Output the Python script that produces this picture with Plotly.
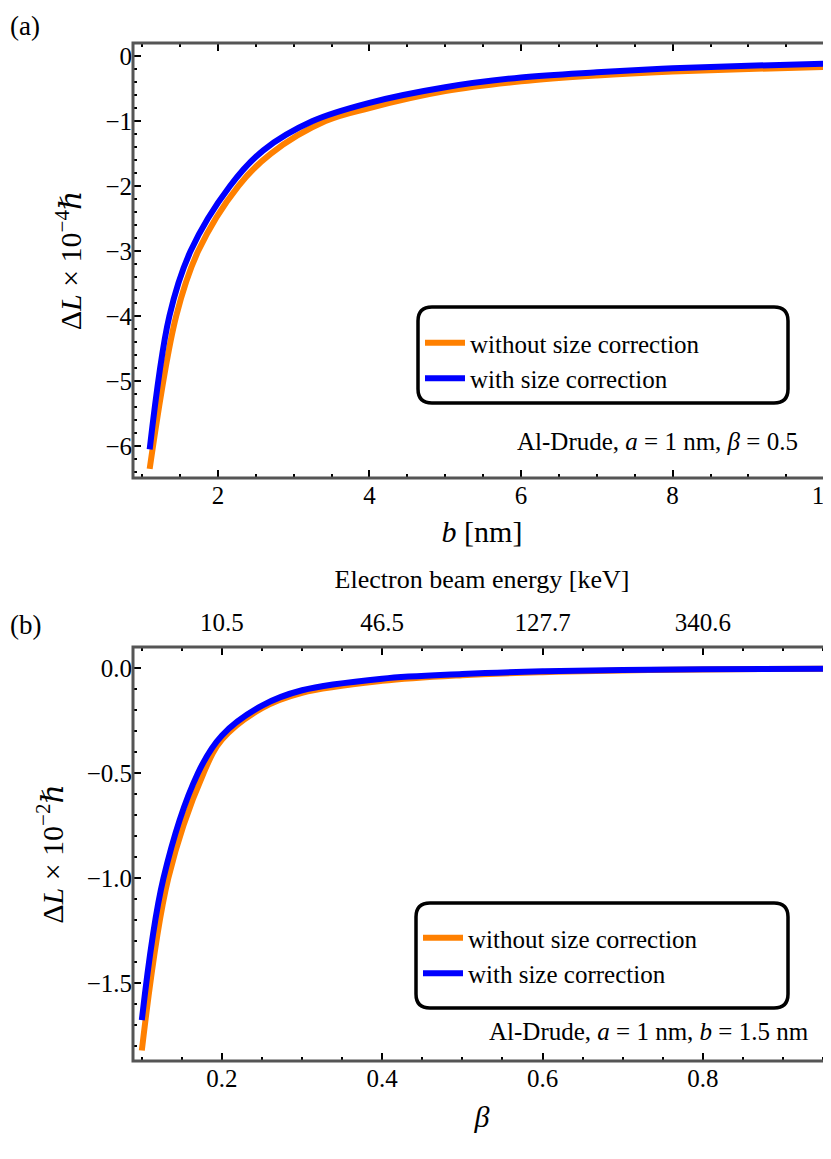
import plotly.graph_objects as go

# panel (a): Delta L vs b, beta = 0.5
b_with = [1.1, 1.36, 1.64, 2.16, 2.6, 3.25, 4, 5, 6, 7, 8, 9, 10]
dl_with = [-6.05, -4.0, -3.0, -2.0, -1.45, -1.0, -0.72, -0.48, -0.33, -0.25, -0.19, -0.15, -0.12]
b_without = [1.1, 1.45, 1.74, 2.27, 2.7, 3.42, 4, 5, 6, 7, 8, 9, 10]
dl_without = [-6.35, -4.0, -3.0, -2.0, -1.5, -1.0, -0.8, -0.54, -0.39, -0.3, -0.24, -0.2, -0.17]

# panel (b): Delta L vs beta, b = 1.5 nm
beta_with = [0.1, 0.127, 0.17, 0.2, 0.25, 0.3, 0.4, 0.5, 0.6, 0.7, 0.8, 0.95]
dl2_with = [-1.675, -1.0, -0.5, -0.32, -0.178, -0.105, -0.05, -0.028, -0.015, -0.009, -0.005, -0.002]
beta_without = [0.1, 0.133, 0.177, 0.2, 0.25, 0.3, 0.4, 0.5, 0.6, 0.7, 0.8, 0.95]
dl2_without = [-1.82, -1.0, -0.5, -0.34, -0.19, -0.117, -0.06, -0.033, -0.019, -0.011, -0.006, -0.002]

energy_ticks = [0.2, 0.4, 0.6, 0.8]
energy_labels = ["10.5", "46.5", "127.7", "340.6"]

ORANGE = "#ff8000"
BLUE = "#0000ff"
FONT = "Liberation Serif, DejaVu Serif, serif"
W, H = 831, 1159

fig = go.Figure()
for x, y, c, name in [(b_without, dl_without, ORANGE, "without size correction"),
                      (b_with, dl_with, BLUE, "with size correction")]:
    fig.add_trace(go.Scatter(x=x, y=y, mode="lines", name=name, xaxis="x", yaxis="y",
                             line=dict(color=c, width=6, shape="spline", smoothing=1.0),
                             legend="legend"))
for x, y, c, name in [(beta_without, dl2_without, ORANGE, "without size correction"),
                      (beta_with, dl2_with, BLUE, "with size correction")]:
    fig.add_trace(go.Scatter(x=x, y=y, mode="lines", name=name, xaxis="x2", yaxis="y2",
                             line=dict(color=c, width=6, shape="spline", smoothing=1.0),
                             legend="legend2"))

# invisible traces so the mirrored tick axes get drawn
for xa, ya, xv, yv in [("x3", "y2", 0.5, 0), ("x4", "y", 5, -3), ("x", "y3", 5, -3), ("x2", "y4", 0.5, -1)]:
    fig.add_trace(go.Scatter(x=[xv], y=[yv], xaxis=xa, yaxis=ya, mode="markers",
                             marker=dict(opacity=0), showlegend=False, hoverinfo="skip"))

xd = [125 / W, 823 / W]
top_dom = [1 - 470 / H, 1 - 35 / H]
bot_dom = [1 - 1053 / H, 1 - 639 / H]
xr1 = [0.88, 10.09]
yr1 = [-6.49, 0.2]
xr2 = [0.089, 0.96]
yr2 = [-1.87, 0.101]

tickfont = dict(family=FONT, size=25, color="black")
base = dict(showline=False, ticks="inside", ticklen=8, tickwidth=2, tickcolor="black",
            showgrid=False, zeroline=False, automargin=False, tickfont=tickfont,
            title_font=dict(family=FONT, size=30, color="black"))


def minor(d):
    return dict(dtick=d, ticklen=4, tickwidth=2, ticks="inside", tickcolor="black")


fig.update_layout(
    width=W, height=H, margin=dict(l=0, r=0, t=0, b=0),
    plot_bgcolor="white", paper_bgcolor="white",
    font=dict(family=FONT, color="black"),
    xaxis=dict(base, domain=xd, anchor="y", range=xr1, tickvals=[2, 4, 6, 8, 10],
               ticklabeloverflow="allow", minor=minor(0.5),
               title=dict(text="<i>b</i> [nm]", standoff=12)),
    xaxis4=dict(base, domain=xd, anchor="y", overlaying="x", side="top", range=xr1,
                tickvals=[2, 4, 6, 8, 10], showticklabels=False, minor=minor(0.5)),
    yaxis=dict(base, domain=top_dom, anchor="x", range=yr1, tickvals=[0, -1, -2, -3, -4, -5, -6],
               ticktext=["0", "−1", "−2", "−3", "−4", "−5", "−6"], minor=minor(0.2),
               title=dict(text="Δ<i>L</i> × 10<sup>−4</sup><i>ℏ</i>", standoff=14)),
    yaxis3=dict(base, domain=top_dom, anchor="x", overlaying="y", side="right", range=yr1,
                tickvals=[0, -1, -2, -3, -4, -5, -6], showticklabels=False, minor=minor(0.2)),
    xaxis2=dict(base, domain=xd, anchor="y2", range=xr2, tickvals=[0.2, 0.4, 0.6, 0.8],
                minor=minor(0.05), title=dict(text="<i>β</i>", standoff=14)),
    xaxis3=dict(base, domain=xd, anchor="y2", overlaying="x2", side="top", range=xr2,
                tickvals=energy_ticks, ticktext=energy_labels, minor=minor(0.05),
                ticklabelstandoff=10,
                title=dict(text="Electron beam energy [keV]", standoff=12,
                           font=dict(family=FONT, size=26, color="black"))),
    yaxis2=dict(base, domain=bot_dom, anchor="x2", range=yr2,
                tickvals=[0, -0.5, -1.0, -1.5], ticktext=["0.0", "−0.5", "−1.0", "−1.5"],
                minor=minor(0.1),
                title=dict(text="Δ<i>L</i> × 10<sup>−2</sup><i>ℏ</i>", standoff=14)),
    yaxis4=dict(base, domain=bot_dom, anchor="x2", overlaying="y2", side="right", range=yr2,
                tickvals=[0, -0.5, -1.0, -1.5], showticklabels=False, minor=minor(0.1)),
    legend=dict(x=412 / W, y=1 - 312 / H, xanchor="left", yanchor="top",
                bgcolor="rgba(0,0,0,0)", font=dict(family=FONT, size=25, color="black"),
                itemwidth=40),
    legend2=dict(x=410 / W, y=1 - 907 / H, xanchor="left", yanchor="top",
                 bgcolor="rgba(0,0,0,0)", font=dict(family=FONT, size=25, color="black"),
                 itemwidth=40),
)

# grey frames around both panels
for xa, ya in [("x", "y"), ("x2", "y2")]:
    fig.add_shape(type="rect", xref=f"{xa} domain", yref=f"{ya} domain", x0=0, x1=1, y0=0, y1=1,
                  line=dict(color="#555555", width=3), layer="above")


def rounded_box(x0, y0, x1, y1, r=14):
    # pixel coords -> paper coords, rounded corners
    px = lambda v: v / W
    py = lambda v: 1 - v / H
    return (f"M {px(x0 + r)} {py(y0)} L {px(x1 - r)} {py(y0)} Q {px(x1)} {py(y0)} {px(x1)} {py(y0 + r)} "
            f"L {px(x1)} {py(y1 - r)} Q {px(x1)} {py(y1)} {px(x1 - r)} {py(y1)} "
            f"L {px(x0 + r)} {py(y1)} Q {px(x0)} {py(y1)} {px(x0)} {py(y1 - r)} "
            f"L {px(x0)} {py(y0 + r)} Q {px(x0)} {py(y0)} {px(x0 + r)} {py(y0)} Z")


for box in [(410, 299, 780, 395), (408, 895, 780, 1000)]:
    fig.add_shape(type="path", path=rounded_box(*box), xref="paper", yref="paper",
                  line=dict(color="black", width=3.5), fillcolor="white", layer="below")

ann = [
    ("(a)", 0, 18, "left", 27),
    ("(b)", 0, 617, "left", 27),
    ("Al-Drude, <i>a</i> = 1 nm, <i>β</i> = 0.5", 792, 433, "right", 25),
    ("Al-Drude, <i>a</i> = 1 nm, <i>b</i> = 1.5 nm", 803, 1023, "right", 25),
]
for text, x, y, anc, size in ann:
    fig.add_annotation(text=text, x=x / W, y=1 - y / H, xref="paper", yref="paper",
                       xanchor=anc, yanchor="middle", showarrow=False,
                       font=dict(family=FONT, size=size, color="black"))

fig.write_html("out.html")
